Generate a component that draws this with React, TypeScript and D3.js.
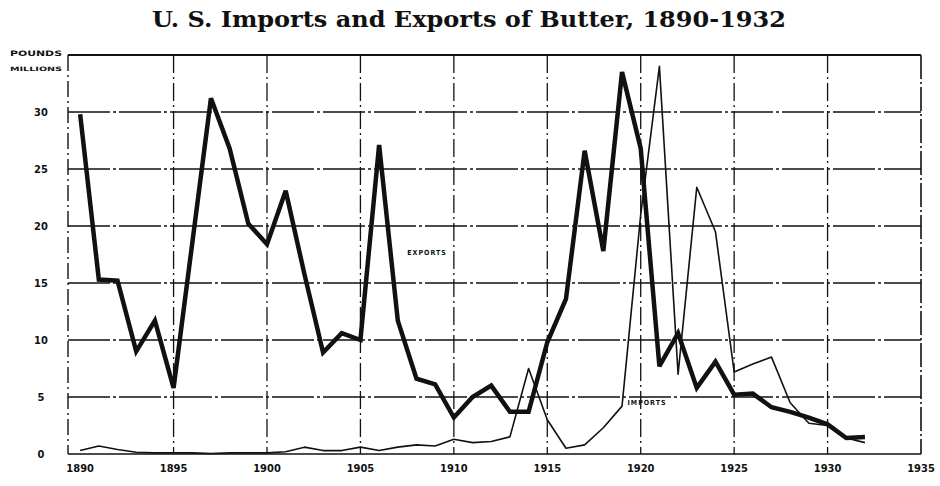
import React from "react";
import * as d3 from "d3";

const years = [1890,1891,1892,1893,1894,1895,1896,1897,1898,1899,1900,1901,1902,1903,1904,1905,1906,1907,1908,1909,1910,1911,1912,1913,1914,1915,1916,1917,1918,1919,1920,1921,1922,1923,1924,1925,1926,1927,1928,1929,1930,1931,1932];

const exportsM = [29.8,15.3,15.2,9.0,11.7,5.8,18.5,31.2,26.8,20.2,18.4,23.1,15.8,8.9,10.6,10.0,27.1,11.7,6.6,6.1,3.2,5.0,6.0,3.7,3.7,9.8,13.6,26.6,17.8,33.5,26.8,7.7,10.6,5.8,8.1,5.2,5.3,4.1,3.7,3.2,2.6,1.4,1.5];

const importsM = [0.3,0.7,0.4,0.15,0.1,0.1,0.1,0.05,0.1,0.1,0.1,0.2,0.6,0.3,0.3,0.6,0.3,0.6,0.8,0.7,1.3,1.0,1.1,1.5,7.5,3.0,0.5,0.8,2.3,4.2,21.0,34.0,7.0,23.4,19.5,7.2,7.9,8.5,4.5,2.7,2.5,1.4,1.0];

const yTicks = [0,5,10,15,20,25,30];
const xTicks = [1890,1895,1900,1905,1910,1915,1920,1925,1930,1935];
const xGrid = [1895,1900,1905,1910,1915,1920,1925,1930];
const yGrid = [5,10,15,20,25,30];

const title = "U. S. Imports and Exports of Butter, 1890-1932";

export default function App() {
  const W = 940, H = 486;
  const x = d3.scaleLinear().domain([1889.35, 1935]).range([68, 921]);
  const y = d3.scaleLinear().domain([0, 35]).range([454, 55]);

  const line = d3.line<number>()
    .x((_, i) => x(years[i]))
    .y((d) => y(d));

  const ink = "#111";
  const axisFont = "'DejaVu Sans Condensed', 'DejaVu Sans', sans-serif";

  return (
    <svg width={W} height={H} style={{ position: "absolute", left: 0, top: 0, background: "#fff" }}>
      <rect x={0} y={0} width={W} height={H} fill="#fff" />
      <text x={469} y={27} textAnchor="middle" fontFamily="'DejaVu Serif', 'Liberation Serif', serif"
        fontWeight="bold" fontSize={23} fill={ink} textLength={634} lengthAdjust="spacingAndGlyphs">{title}</text>

      {/* horizontal grid */}
      {yGrid.map((v) => (
        <line key={"h" + v} x1={x(1889.35)} x2={x(1935)} y1={y(v)} y2={y(v)}
          stroke={ink} strokeWidth={1.4} strokeDasharray="42 3 3 3" />
      ))}
      {/* vertical grid */}
      {xGrid.map((v) => (
        <line key={"v" + v} x1={x(v)} x2={x(v)} y1={y(35)} y2={y(0)}
          stroke={ink} strokeWidth={1.3} strokeDasharray="18 4 2 4" />
      ))}
      {/* frame */}
      <line x1={x(1889.35)} x2={x(1935)} y1={y(35)} y2={y(35)} stroke={ink} strokeWidth={1.8} />
      <line x1={x(1889.35)} x2={x(1935)} y1={y(0)} y2={y(0)} stroke={ink} strokeWidth={1.6} />
      <line x1={x(1889.35)} x2={x(1889.35)} y1={y(35)} y2={y(0)} stroke={ink} strokeWidth={1.4} strokeDasharray="16 4 2 4" />
      <line x1={x(1935)} x2={x(1935)} y1={y(35)} y2={y(0)} stroke={ink} strokeWidth={1.6} strokeDasharray="24 3 2 3" />

      {/* y axis labels */}
      <text x={10} y={56} fontFamily={axisFont} fontWeight="bold" fontSize={7.5} fill={ink} textLength={52} lengthAdjust="spacingAndGlyphs">POUNDS</text>
      <text x={10} y={71} fontFamily={axisFont} fontWeight="bold" fontSize={6} fill={ink} textLength={52} lengthAdjust="spacingAndGlyphs">MILLIONS</text>
      {yTicks.map((v) => (
        <text key={"yt" + v} x={41} y={y(v) + 4} textAnchor="middle" fontFamily={axisFont}
          fontWeight="bold" fontSize={11} fill={ink}>{v}</text>
      ))}
      {xTicks.map((v) => (
        <text key={"xt" + v} x={x(v)} y={472} textAnchor="middle" fontFamily={axisFont}
          fontWeight="bold" fontSize={11} fill={ink}>{v}</text>
      ))}

      {/* data */}
      <path d={line(importsM) || ""} fill="none" stroke={ink} strokeWidth={1.6} strokeLinejoin="round" />
      <path d={line(exportsM) || ""} fill="none" stroke={ink} strokeWidth={4.5} strokeLinejoin="miter" strokeMiterlimit={3} />

      {/* series labels */}
      <text x={427} y={255} textAnchor="middle" fontFamily={axisFont} fontWeight="bold" fontSize={7}
        fill={ink} letterSpacing={1}>EXPORTS</text>
      <text x={647} y={405} textAnchor="middle" fontFamily={axisFont} fontWeight="bold" fontSize={7}
        fill={ink} letterSpacing={1}>IMPORTS</text>
    </svg>
  );
}
